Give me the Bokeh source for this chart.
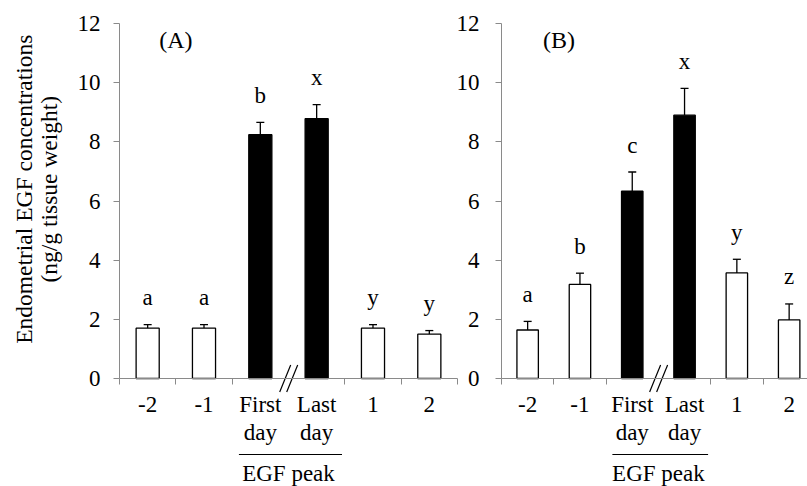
import math
from bokeh.plotting import figure
from bokeh.models import Range1d, FixedTicker, ColumnDataSource, Whisker, TeeHead, LinearAxis
from bokeh.embed import file_html
from bokeh.resources import INLINE
from bokeh.core.properties import value

# ---------------- data ----------------
categories = ["-2", "-1", "First", "Last", "1", "2"]
label_line2 = ["", "", "day", "day", "", ""]
is_peak = [False, False, True, True, False, False]

a_mean = [1.70, 1.70, 8.24, 8.78, 1.70, 1.50]
a_err = [0.12, 0.12, 0.42, 0.48, 0.12, 0.12]
a_letters = ["a", "a", "b", "x", "y", "y"]

b_mean = [1.64, 3.18, 6.33, 8.90, 3.57, 1.98]
b_err = [0.29, 0.38, 0.65, 0.91, 0.46, 0.54]
b_letters = ["a", "b", "c", "x", "y", "z"]

y_ticks = [0, 2, 4, 6, 8, 10, 12]
panel_names = ["(A)", "(B)"]
group_label = "EGF peak"
y_title_lines = ["Endometrial EGF concentrations", "(ng/g tissue weight)"]

# ---------------- style ----------------
FONT = "Liberation Serif"
AXIS_GREY = "#8a8a8a"
W, H = 807, 486
PX = 355.0 / 12.0          # pixels per y unit
Y_TOP = 12 + 23.0 / PX
Y_BOT = Y_TOP - H / PX

# per panel geometry: y-axis pixel position, pixels per category
A_AXIS, A_CAT = 119, 56.33
B_AXIS, B_CAT = 501, 52.3

p = figure(width=W, height=H, output_backend="svg", toolbar_location=None,
           x_range=Range1d(-A_AXIS / A_CAT, (W - A_AXIS) / A_CAT),
           y_range=Range1d(Y_BOT, Y_TOP),
           min_border_left=0, min_border_right=0, min_border_top=0, min_border_bottom=0,
           outline_line_color=None, background_fill_color="white",
           border_fill_color="white")
p.extra_x_ranges = {"B": Range1d(-B_AXIS / B_CAT, (W - B_AXIS) / B_CAT)}
p.xgrid.visible = False
p.ygrid.visible = False


def txt(rng, **kw):
    kw.setdefault("text_font", value(FONT))
    kw.setdefault("text_color", "black")
    return p.text(x_range_name=rng, **kw)


def style_x_axis(xa, n):
    # tick marks only at category boundaries (none at the break)
    xa.fixed_location = 0
    xa.bounds = (0, n)
    xa.ticker = FixedTicker(ticks=[], minor_ticks=[0, 1, 2, 4, 5, 6])
    xa.minor_tick_out = 6
    xa.minor_tick_in = 0
    xa.minor_tick_line_color = AXIS_GREY
    xa.axis_line_color = AXIS_GREY


def style_y_axis(ya):
    ya.fixed_location = 0
    ya.bounds = (0, 12)
    ya.ticker = FixedTicker(ticks=[], minor_ticks=y_ticks)
    ya.minor_tick_out = 6
    ya.minor_tick_in = 0
    ya.minor_tick_line_color = AXIS_GREY
    ya.axis_line_color = AXIS_GREY


def draw_panel(mean, err, letters, name, rng, px_cat, name_x, label_dx, xa, ya):
    n = len(categories)
    xs = [i + 0.5 for i in range(n)]
    src = ColumnDataSource(dict(
        x=xs, top=mean, upper=[m + e for m, e in zip(mean, err)],
        fill=["black" if k else "white" for k in is_peak], letters=letters))
    p.vbar(x="x", top="top", bottom=0, width=0.41, fill_color="fill",
           line_color="black", line_width=1.3, source=src, x_range_name=rng)

    p.add_layout(Whisker(base="x", lower="top", upper="upper", source=src,
                         dimension="height", line_color="black", line_width=1.3,
                         upper_head=TeeHead(size=8, line_color="black", line_width=1.3),
                         lower_head=None, x_range_name=rng))

    # significance letters
    txt(rng, x="x", y="upper", text="letters", source=src, text_align="center",
        text_baseline="alphabetic", y_offset=-27, text_font_size=value("23px"))

    # panel name
    txt(rng, x=[name_x], y=[12], text=[name], text_align="center", text_baseline="middle",
        y_offset=16, text_font_size=value("24px"))

    # x tick labels (second line only for the peak days)
    txt(rng, x=xs, y=[0] * n, text=categories, text_align="center", text_baseline="middle",
        y_offset=26, text_font_size=value("23px"))
    x2 = [x for x, t in zip(xs, label_line2) if t]
    t2 = [t for t in label_line2 if t]
    txt(rng, x=x2, y=[0] * len(x2), text=t2, text_align="center", text_baseline="middle",
        y_offset=54, text_font_size=value("23px"))

    # y tick labels
    txt(rng, x=[0] * len(y_ticks), y=y_ticks, text=[str(t) for t in y_ticks],
        text_align="right", text_baseline="middle", x_offset=label_dx,
        text_font_size=value("23px"))

    # axis break marks "//" between First and Last day
    bx = 3.0
    dy = 13.5 / PX
    for off in (-5.5, 1.5):
        x0 = bx + (off - 3.3) / px_cat
        x1 = bx + (off + 7.7) / px_cat
        p.segment(x0=[x0], y0=[-dy], x1=[x1], y1=[dy], line_color="black",
                  line_width=1.2, x_range_name=rng)

    # group line and label
    gy = -76.0 / PX
    p.segment(x0=[2 + 0.12], y0=[gy], x1=[4 - 0.05], y1=[gy], line_color="black",
              line_width=1.2, x_range_name=rng)
    txt(rng, x=[bx], y=[0], text=[group_label], text_align="center", text_baseline="middle",
        y_offset=95, text_font_size=value("23px"))

    style_x_axis(xa, n)
    style_y_axis(ya)


# panel A uses the default axes
draw_panel(a_mean, a_err, a_letters, panel_names[0], "default", A_CAT, 1.0, -19,
           p.xaxis[0], p.yaxis[0])

# panel B gets its own axes on the "B" range
xb = LinearAxis(x_range_name="B")
yb = LinearAxis(x_range_name="B")
p.add_layout(xb, "below")
p.add_layout(yb, "left")
draw_panel(b_mean, b_err, b_letters, panel_names[1], "B", B_CAT, 1.1, -22, xb, yb)

# two-line vertical axis title for panel A
tx = [(23 - A_AXIS) / A_CAT, (48 - A_AXIS) / A_CAT]
txt("default", x=tx, y=[6.4, 6.4], text=y_title_lines, angle=math.pi / 2,
    text_align="center", text_baseline="middle", text_font_size=value("23.5px"))

open("out.html", "w").write(file_html(p, INLINE))
